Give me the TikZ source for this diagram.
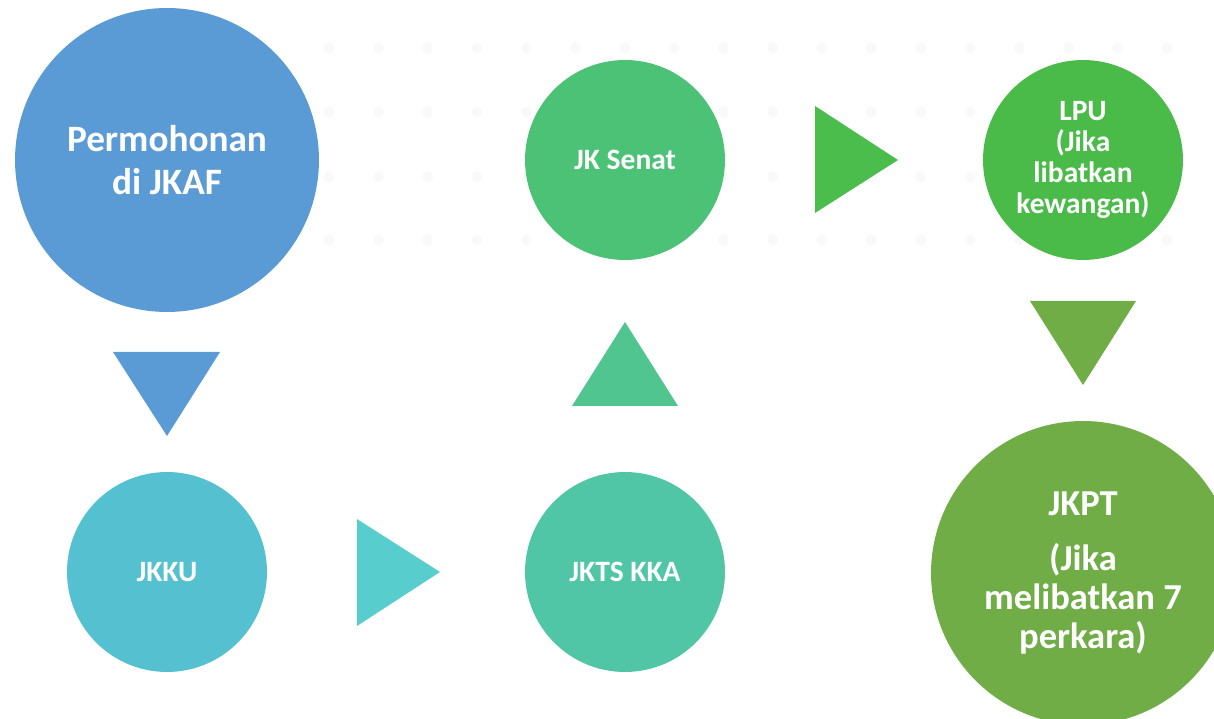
\documentclass[tikz,border=0pt]{standalone}
\usepackage{fontspec}
\setmainfont{Carlito}
\usetikzlibrary{positioning}

\definecolor{permblue}{HTML}{5B9BD5}
\definecolor{jkkucyan}{HTML}{55C1D0}
\definecolor{tricyan}{HTML}{57CDCD}
\definecolor{jktsteal}{HTML}{50C6A6}
\definecolor{triteal}{HTML}{50C58F}
\definecolor{senatgreen}{HTML}{4CC277}
\definecolor{trigreen}{HTML}{4ABD4D}
\definecolor{lpugreen}{HTML}{4ABB49}
\definecolor{jkptolive}{HTML}{70AD47}

\begin{document}
\begin{tikzpicture}[
    x=0.02cm, y=-0.02cm,
    bigstage/.style={circle, inner sep=0pt, minimum size=6.08cm, align=center, text=white, font=\bfseries\fontsize{21.2}{24.4}\selectfont},
    stage/.style={circle, inner sep=0pt, minimum size=4cm, align=center, text=white, font=\bfseries\fontsize{16.8}{17.6}\selectfont},
    pointer/.style={draw=none},
    bgdot/.style={fill=black!2.5}
]

% Frame of the picture
\useasboundingbox (0,0) rectangle (1214,719);
\clip (0,0) rectangle (1214,719);

% Faint dotted background
\foreach \row in {48,112,177,240}{
    \foreach \col in {0,...,17}{
        \fill[bgdot] (329+\col*49.3,\row) circle[radius=5.5];
    }
}

% Stages
\node[bigstage, fill=permblue] (permohonan) at (167,160) {Permohonan\\di JKAF};
\node[stage, fill=jkkucyan] (jkku) at (167,572) {JKKU};
\node[stage, fill=jktsteal] (jkts) at (625,572) {JKTS KKA};
\node[stage, fill=senatgreen] (senat) at (625,160) {JK Senat};
\node[stage, fill=lpugreen] (lpu) at (1083,160) {LPU\\(Jika\\libatkan\\kewangan)};
\node[bigstage, fill=jkptolive, font=\bfseries\fontsize{20.8}{22.2}\selectfont] (jkpt) at (1083,573) {JKPT\\[9.5pt](Jika\\melibatkan 7\\perkara)};

% Pointers between stages
\fill[pointer, permblue] (113,352) -- (220,352) -- (167,436) -- cycle;
\fill[pointer, tricyan] (357,519) -- (357,626) -- (440,572) -- cycle;
\fill[pointer, triteal] (572,406) -- (678,406) -- (625,322) -- cycle;
\fill[pointer, trigreen] (815,106) -- (815,213) -- (898,160) -- cycle;
\fill[pointer, jkptolive] (1030,301) -- (1136,301) -- (1083,385) -- cycle;

\end{tikzpicture}
\end{document}
